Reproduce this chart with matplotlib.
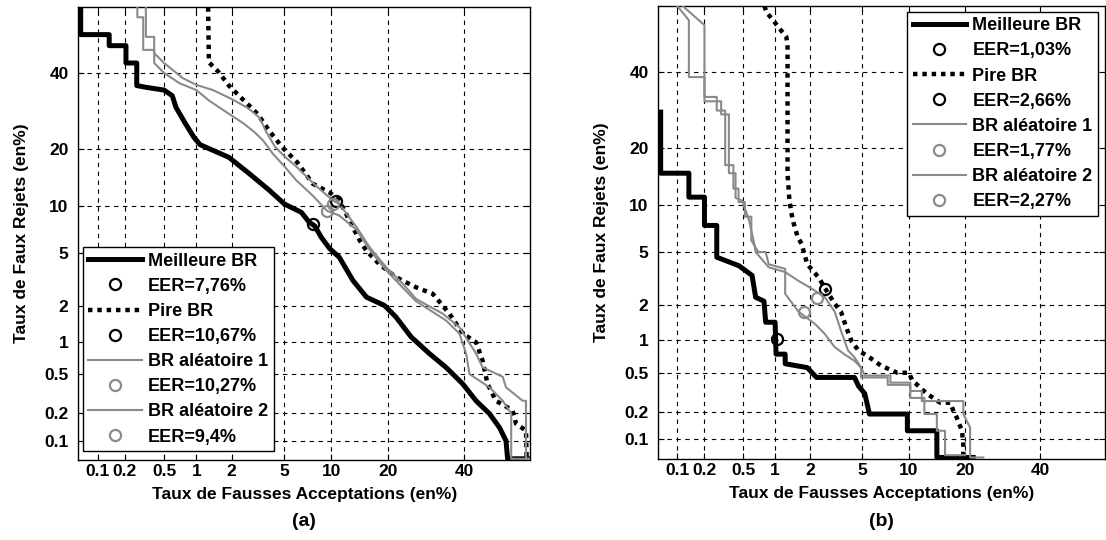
import numpy as np
import matplotlib
matplotlib.use('Agg')
import matplotlib.pyplot as plt
from statistics import NormalDist

plt.rcParams['font.family'] = ['Liberation Sans', 'DejaVu Sans']
plt.rcParams['font.weight'] = 'bold'
plt.rcParams['axes.labelweight'] = 'bold'

ND = NormalDist()

TICKS = [0.1, 0.2, 0.5, 1, 2, 5, 10, 20, 40]
TICK_LABELS = ['0.1', '0.2', '0.5', '1', '2', '5', '10', '20', '40']
LIMS = [0.06, 60]

# ---- panel (a) ----
FA_BEST_A = [0.064, 0.064, 0.135, 0.135, 0.205, 0.205, 0.266, 0.266, 0.33, 0.5, 0.60, 0.65, 0.80, 0.95,
             1.08, 1.9, 2.78, 3.92, 5.0, 6.5, 7.3, 7.9, 8.7, 9.75, 11.1, 13.2, 15.6, 19.2, 21.7, 25.3,
             30.0, 34.6, 39.5, 43.5, 47.6, 50.7, 52.7, 53.2, 60]
FR_BEST_A = [60, 51.7, 51.7, 48.3, 48.3, 43, 43, 36.3, 35.8, 35, 33.4, 30.2, 25.9, 22.7,
             21.0, 18.3, 15.1, 12.3, 10.3, 9.2, 8.0, 7.6, 6.4, 5.4, 4.7, 3.2, 2.37, 2.03, 1.63, 1.10,
             0.78, 0.58, 0.40, 0.27, 0.198, 0.14, 0.1, 0.062, 0.062]

FA_WORST_A = [1.27, 1.29, 1.57, 1.90, 2.44, 3.19, 3.88, 4.84, 6.1, 7.7, 9.75, 11.1, 11.9, 13.2, 14.4,
              15.6, 18.1, 21.7, 26.5, 30.9, 35.6, 39.5, 43.5, 45.5, 47.0, 49.6, 54.7, 55.8, 58.8, 59]
FR_WORST_A = [60, 43.2, 40.2, 36.3, 32.5, 28.5, 24.3, 20.4, 17.3, 13.4, 12.0, 10.8, 9.4, 7.45, 6.1,
              5.2, 4.2, 3.37, 2.83, 2.52, 1.74, 1.18, 0.99, 0.67, 0.40, 0.27, 0.215, 0.154, 0.13, 0.062]

FA_R1_A = [0.33, 0.33, 0.40, 0.40, 0.5, 0.6, 0.75, 1.0, 1.4, 2.0, 2.7, 3.3, 3.7, 4.3, 5.0, 6.0, 8.1,
           10.2, 11.1, 13.8, 16.2, 19.5, 23.3, 26.5, 30.0, 33.7, 38.5, 43.5, 45.5, 51.7, 52.7, 57.8,
           58.8, 58.8, 60]
FR_R1_A = [60, 51, 51, 46, 43, 41, 38.5, 36.5, 35, 32.5, 30, 27.5, 24, 20.5, 18.5, 16.5, 13,
           10.8, 10.3, 7.5, 5.5, 4.0, 3.0, 2.3, 2.0, 1.74, 1.34, 0.78, 0.58, 0.47, 0.37, 0.27,
           0.27, 0.062, 0.062]

FA_R2_A = [0.27, 0.27, 0.31, 0.31, 0.40, 0.40, 0.5, 0.7, 1.0, 1.3, 1.9, 2.5, 3.0, 3.5, 4.15, 5.0,
           6.0, 7.7, 9.4, 11.1, 13.8, 16.2, 19.5, 23.3, 26.5, 34.6, 38.5, 40.5, 41.5, 47.6, 51.7,
           54.3, 54.3, 60]
FR_R2_A = [60, 57, 57, 47, 47, 43, 40, 37, 35, 32, 28.5, 26, 24, 22, 19, 16.5,
           14, 11.5, 9.4, 8.8, 7.2, 5.3, 3.8, 2.8, 2.2, 1.53, 1.18, 0.78, 0.50, 0.37, 0.27,
           0.198, 0.062, 0.062]

EER_A = [7.76, 10.67, 10.27, 9.4]
EER_LABELS_A = ['EER=7,76%', 'EER=10,67%', 'EER=10,27%', 'EER=9,4%']

# ---- panel (b) ----
FA_BEST_B = [0.064, 0.064, 0.135, 0.135, 0.2, 0.2, 0.27, 0.27, 0.335, 0.455, 0.5, 0.61, 0.66, 0.79,
             0.82, 1.0, 1.02, 1.23, 1.23, 1.9, 2.26, 4.4, 4.7, 5.2, 5.6, 9.8, 9.8, 14.4, 14.4, 21.8]
FR_BEST_B = [28.6, 15.0, 15.0, 11.1, 11.1, 7.5, 7.5, 4.6, 4.35, 4.0, 3.8, 3.4, 2.31, 2.15,
             1.44, 1.44, 0.75, 0.75, 0.61, 0.56, 0.45, 0.45, 0.37, 0.31, 0.19, 0.19, 0.125, 0.125,
             0.062, 0.062]

FA_WORST_B = [0.80, 0.83, 0.96, 1.10, 1.26, 1.29, 1.29, 1.29, 1.34, 1.43, 1.58, 1.70, 1.90, 2.34,
              2.71, 3.14, 3.5, 3.83, 4.2, 4.7, 5.6, 6.7, 8.5, 10.0, 10.5, 12.7, 15.0, 16.9, 17.6,
              18.2, 19.3, 19.6, 19.6]
FR_WORST_B = [60, 58.2, 55.7, 53.1, 50.6, 47.5, 19.5, 14.9, 10.6, 8.1, 6.3, 5.7, 4.1, 3.3,
              2.61, 2.05, 1.77, 1.30, 0.98, 0.81, 0.70, 0.585, 0.50, 0.50, 0.42, 0.31, 0.25, 0.25,
              0.20, 0.175, 0.125, 0.09, 0.062]

FA_R1_B = [0.10, 0.135, 0.135, 0.2, 0.2, 0.27, 0.27, 0.33, 0.33, 0.40, 0.40, 0.45, 0.45, 0.52, 0.52,
           0.6, 0.6, 0.7, 0.82, 0.875, 1.23, 1.23, 1.6, 2.2, 2.63, 3.14, 3.7, 4.4, 4.9, 4.9, 7.4,
           7.4, 10.2, 10.2, 12.3, 12.3, 14.4, 14.4, 15.9, 15.9, 20]
FR_R1_B = [60, 55.7, 38.4, 38.4, 32.7, 32.7, 29, 29, 16.5, 16.5, 12.4, 12.4, 10.4, 10.4, 8.5,
           8.5, 6.0, 5.0, 5.0, 4.1, 3.8, 2.46, 1.77, 1.39, 1.14, 0.87, 0.75, 0.65, 0.56, 0.45, 0.45,
           0.38, 0.38, 0.28, 0.28, 0.19, 0.19, 0.125, 0.125, 0.066, 0.066]

FA_R2_B = [0.115, 0.2, 0.2, 0.30, 0.30, 0.36, 0.36, 0.42, 0.42, 0.49, 0.57, 0.64, 0.66, 0.875, 1.23,
           1.6, 2.08, 2.63, 3.14, 3.5, 3.95, 4.4, 4.9, 5.2, 7.7, 7.7, 10.2, 10.2, 11.9, 11.9, 19.6,
           19.6, 21.1, 21.1, 24.2]
FR_R2_B = [60, 54.2, 31.5, 31.5, 28, 28, 15, 15, 11, 10.6, 8.1, 5.7, 5.0, 3.9, 3.6,
           3.1, 2.69, 2.31, 1.77, 1.22, 0.81, 0.70, 0.56, 0.47, 0.47, 0.40, 0.40, 0.33, 0.33, 0.26, 0.26,
           0.19, 0.136, 0.062, 0.062]

EER_B = [1.03, 2.66, 1.77, 2.27]
EER_LABELS_B = ['EER=1,03%', 'EER=2,66%', 'EER=1,77%', 'EER=2,27%']

NAMES = ['Meilleure BR', 'Pire BR', 'BR aléatoire 1', 'BR aléatoire 2']
GRAY = '#8a8a8a'


def probit(p):
    p = np.clip(np.asarray(p, dtype=float) / 100.0, 1e-9, 1 - 1e-9)
    return np.vectorize(ND.inv_cdf, otypes=[float])(p)


def unprobit(z):
    z = np.asarray(z, dtype=float)
    return 100.0 * np.vectorize(ND.cdf, otypes=[float])(z)


def det_panel(ax, curves, eers, eer_labels):
    ax.set_xscale('function', functions=(probit, unprobit))
    ax.set_yscale('function', functions=(probit, unprobit))
    styles = [dict(color='black', lw=3.6, ls='-'),
              dict(color='black', lw=3.2, ls=(0, (1, 1.1))),
              dict(color=GRAY, lw=1.5, ls='-'),
              dict(color=GRAY, lw=1.5, ls='-')]
    mcols = ['black', 'black', GRAY, GRAY]
    for (fa, fr), st, eer, lab, name, mc in zip(curves, styles, eers, eer_labels, NAMES, mcols):
        ax.plot(fa, fr, label=name, zorder=3, **st)
        ax.plot([eer], [eer], ls='none', marker='o', ms=8, mfc='none', mec=mc, mew=1.6,
                label=lab, zorder=4)
    ax.set_xlim(LIMS)
    ax.set_ylim(LIMS)
    ax.set_xticks(TICKS)
    ax.set_xticklabels(TICK_LABELS)
    ax.set_yticks(TICKS)
    ax.set_yticklabels(TICK_LABELS)
    ax.grid(True, color='black', ls=(0, (4, 4)), lw=0.8)
    ax.tick_params(direction='in', length=4, top=True, right=True, labelsize=12.5)
    ax.tick_params(axis='x', pad=3)
    ax.tick_params(axis='y', pad=7)
    for s in ax.spines.values():
        s.set_linewidth(1.0)
    ax.set_xlabel('Taux de Fausses Acceptations (en%)', fontsize=12.5, labelpad=6)
    ax.set_ylabel('Taux de Faux Rejets (en%)', fontsize=12.5, labelpad=11)


fig = plt.figure(figsize=(11.06, 5.40), dpi=100)
ax_a = fig.add_axes([78.3 / 1106, 80 / 540, 451.7 / 1106, 452.7 / 540])
ax_b = fig.add_axes([658.3 / 1106, 81.3 / 540, 447 / 1106, 452.7 / 540])

det_panel(ax_a, [(FA_BEST_A, FR_BEST_A), (FA_WORST_A, FR_WORST_A),
                 (FA_R1_A, FR_R1_A), (FA_R2_A, FR_R2_A)], EER_A, EER_LABELS_A)
det_panel(ax_b, [(FA_BEST_B, FR_BEST_B), (FA_WORST_B, FR_WORST_B),
                 (FA_R1_B, FR_R1_B), (FA_R2_B, FR_R2_B)], EER_B, EER_LABELS_B)

leg_kw = dict(fontsize=13, frameon=True, fancybox=False, framealpha=1, edgecolor='black',
              handlelength=2.95, handletextpad=0.35, labelspacing=0.45, borderaxespad=0,
              borderpad=0.3)
lg = ax_a.legend(loc='lower left', bbox_to_anchor=(0.0104, 0.02), **leg_kw)
lg.get_frame().set_linewidth(1.0)
lg = ax_b.legend(loc='upper left', bbox_to_anchor=(0.557, 0.987), **leg_kw)
lg.get_frame().set_linewidth(1.0)

fig.text(304 / 1106, 1 - 521 / 540, '(a)', ha='center', va='center', fontsize=14, fontweight='bold')
fig.text(881 / 1106, 1 - 521 / 540, '(b)', ha='center', va='center', fontsize=14, fontweight='bold')

fig.savefig('out.png', dpi=100)
